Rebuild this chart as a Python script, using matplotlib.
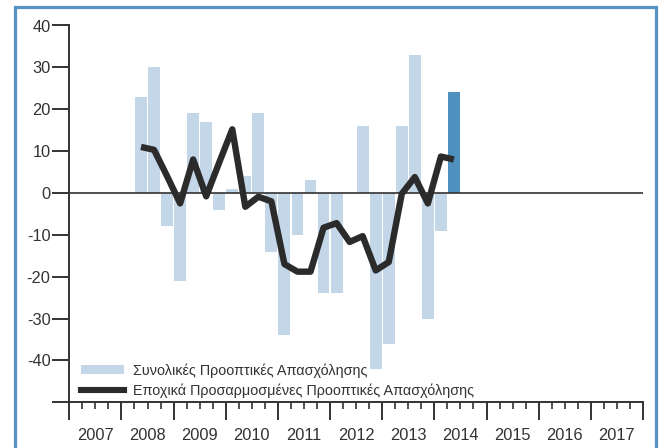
import matplotlib
matplotlib.use("Agg")
import matplotlib.pyplot as plt
from matplotlib.patches import Patch, Rectangle
from matplotlib.lines import Line2D
from matplotlib.ticker import FixedLocator, NullFormatter

plt.rcParams['font.family'] = ['Liberation Sans', 'DejaVu Sans']

# ---- data (quarterly, 2008Q2 .. 2014Q2) ----
start_year = 2008
start_quarter = 2
total_outlook = [23, 30, -8, -21, 19, 17, -4, 1, 4, 19, -14, -34, -10, 3,
                 -24, -24, 0, 16, -42, -36, 16, 33, -30, -9, 24]
seasonal_outlook = [11, 10.3, 4, -2.5, 8, -0.8, 7.3, 15.2, -3.3, -0.9, -2,
                    -17, -18.8, -18.8, -8.3, -7.2, -11.7, -10.3, -18.5, -16.5,
                    -0.2, 3.8, -2.5, 8.7, 8]
year_labels = ['2007', '2008', '2009', '2010', '2011', '2012', '2013',
               '2014', '2015', '2016', '2017']
y_ticks = [-50, -40, -30, -20, -10, 0, 10, 20, 30, 40]
legend_labels = ['Συνολικές Προοπτικές Απασχόλησης',
                 'Εποχικά Προσαρμοσμένες Προοπτικές Απασχόλησης']

light_blue = '#c4d7e8'
dark_blue = '#4e90bf'
dark = '#2b2b2b'
text_col = '#333333'

x = [start_year + (start_quarter - 1 + i + 0.5) / 4 for i in range(len(total_outlook))]
bar_colors = [light_blue] * (len(total_outlook) - 1) + [dark_blue]

fig = plt.figure(figsize=(6.62, 4.48), dpi=100)
ax = fig.add_axes([69.3 / 662, 1 - 402.3 / 448, 573.7 / 662, (402.3 - 25.5) / 448])

ax.bar(x, total_outlook, width=0.228, color=bar_colors, zorder=1)
ax.axhline(0, color='#333333', lw=1.2, zorder=2)
ax.plot(x, seasonal_outlook, color=dark, lw=4.6, solid_joinstyle='round',
        solid_capstyle='butt', zorder=3)

first_year = int(year_labels[0])
n_years = len(year_labels)
ax.set_xlim(first_year, first_year + n_years)
ax.set_ylim(-50, 40)

for s in ['top', 'right']:
    ax.spines[s].set_visible(False)
for s in ['left', 'bottom']:
    ax.spines[s].set_color('#333333')
    ax.spines[s].set_linewidth(1.4)

# y axis
ax.set_yticks(y_ticks)
ax.set_yticklabels([str(v) if v > -50 else '' for v in y_ticks])
ax.tick_params(axis='y', direction='out', length=12, width=1.4, color='#333333',
               pad=1.5, labelsize=11.8, labelcolor=text_col)

# x axis: year boundaries (major), quarters (minor), labels at year centers
ax.xaxis.set_major_locator(FixedLocator([first_year + i for i in range(n_years + 1)]))
ax.xaxis.set_major_formatter(NullFormatter())
ax.xaxis.set_minor_locator(FixedLocator([first_year + i + q / 4
                                         for i in range(n_years) for q in (1, 2, 3)]))
ax.tick_params(axis='x', which='major', direction='out', length=13, width=1.4,
               color='#333333')
ax.tick_params(axis='x', which='minor', direction='out', length=5, width=1.2,
               color='#333333')

sec = ax.secondary_xaxis('bottom')
sec.set_xticks([first_year + i + 0.5 for i in range(n_years)])
sec.set_xticklabels(year_labels)
sec.tick_params(length=0, pad=18.5, labelsize=11.8, labelcolor=text_col)
sec.spines['bottom'].set_visible(False)

handles = [Patch(facecolor=light_blue, edgecolor='none'),
           Line2D([0], [0], color=dark, lw=4.4)]
leg = ax.legend(handles, legend_labels, loc='lower left',
                bbox_to_anchor=(0.021, 0.012), frameon=False, borderpad=0,
                borderaxespad=0, handlelength=2.95, handleheight=0.6,
                handletextpad=0.62, labelspacing=0.38, fontsize=10.4)
for t in leg.get_texts():
    t.set_color(text_col)

# outer blue frame
fig.patches.append(Rectangle((14.5 / 662, -0.1), (656 - 14.5) / 662,
                             1.1 - 7.5 / 448, transform=fig.transFigure,
                             fill=False, edgecolor='#5593c4', lw=2.3,
                             clip_on=False))

fig.savefig('out.png', dpi=100)
